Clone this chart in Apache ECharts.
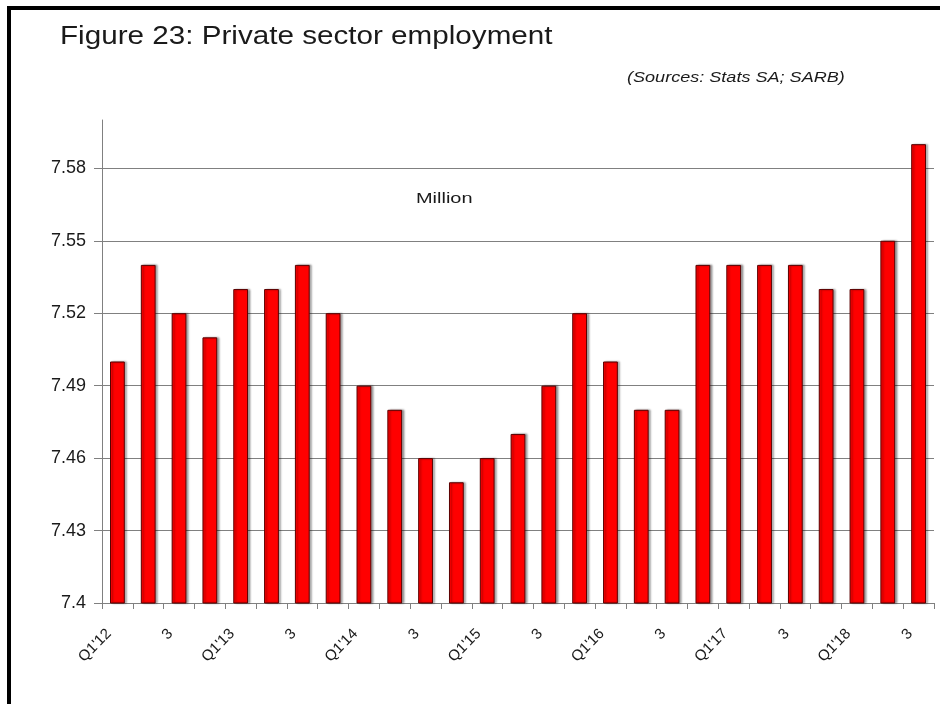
<!DOCTYPE html>
<html>
<head>
<meta charset="utf-8">
<script src="https://cdn.jsdelivr.net/npm/echarts@6/dist/echarts.min.js"></script>
<style>
  html, body { margin: 0; padding: 0; background: #fff; }
  #chart { width: 940px; height: 704px; }
</style>
</head>
<body>
<div id="chart"></div>
<script>
// Quarterly private sector employment, millions
const quarters = [
  "Q1'12", "2", "3", "4",
  "Q1'13", "2", "3", "4",
  "Q1'14", "2", "3", "4",
  "Q1'15", "2", "3", "4",
  "Q1'16", "2", "3", "4",
  "Q1'17", "2", "3", "4",
  "Q1'18", "2", "3"
];
const employment = [
  7.50, 7.54, 7.52, 7.51,
  7.53, 7.53, 7.54, 7.52,
  7.49, 7.48, 7.46, 7.45,
  7.46, 7.47, 7.49, 7.52,
  7.50, 7.48, 7.48, 7.54,
  7.54, 7.54, 7.54, 7.53,
  7.53, 7.55, 7.59
];
const yMin = 7.40;
const yMax = 7.60;
const yStep = 0.03;

const FONT = "'Liberation Sans', Arial, sans-serif";
const chart = echarts.init(document.getElementById('chart'), null, { renderer: 'canvas' });

chart.setOption({
  backgroundColor: '#ffffff',
  animation: false,
  graphic: [
    // frame edges along top and left
    { type: 'rect', left: 7, top: 6, shape: { width: 933, height: 4 }, style: { fill: '#000' } },
    { type: 'rect', left: 7, top: 6, shape: { width: 4, height: 698 }, style: { fill: '#000' } },
    {
      type: 'text', x: 60, y: 24, scaleX: 1.14,
      style: { text: 'Figure 23: Private sector employment', font: '26px ' + FONT, fill: '#1a1a1a' }
    },
    {
      type: 'text', x: 627, y: 71, scaleX: 1.29,
      style: { text: '(Sources: Stats SA; SARB)', font: 'italic 14px ' + FONT, fill: '#1a1a1a' }
    },
    {
      type: 'text', x: 416, y: 191, scaleX: 1.33,
      style: { text: 'Million', font: '15px ' + FONT, fill: '#1a1a1a' }
    }
  ],
  grid: { left: 102, right: 6, top: 120, bottom: 101, containLabel: false },
  xAxis: {
    type: 'category',
    data: quarters,
    boundaryGap: true,
    axisLine: { show: true, lineStyle: { color: '#808080', width: 1 } },
    axisTick: { show: true, interval: 0, length: 6, lineStyle: { color: '#808080' } },
    axisLabel: {
      interval: 1,
      rotate: 45,
      margin: 20,
      padding: [0, 12, 0, 0],
      fontSize: 15,
      fontFamily: FONT,
      color: '#1a1a1a'
    },
    splitLine: { show: false }
  },
  yAxis: {
    type: 'value',
    min: yMin,
    max: yMax,
    interval: yStep,
    axisLine: { show: true, lineStyle: { color: '#808080', width: 1 } },
    axisTick: { show: true, length: 8, lineStyle: { color: '#808080' } },
    axisLabel: {
      margin: 16,
      fontSize: 18,
      fontFamily: FONT,
      color: '#1a1a1a',
      showMaxLabel: false,
      formatter: v => String(+v.toFixed(2))
    },
    splitLine: { show: true, showMaxLine: false, lineStyle: { color: '#808080', width: 1 } }
  },
  series: [{
    type: 'bar',
    data: employment,
    barWidth: '48%',
    itemStyle: {
      color: '#ff0000',
      borderColor: '#5a0000',
      borderWidth: 1,
      shadowColor: 'rgba(0,0,0,0.35)',
      shadowOffsetX: 2,
      shadowOffsetY: 0,
      shadowBlur: 2
    }
  }]
});
</script>
</body>
</html>
